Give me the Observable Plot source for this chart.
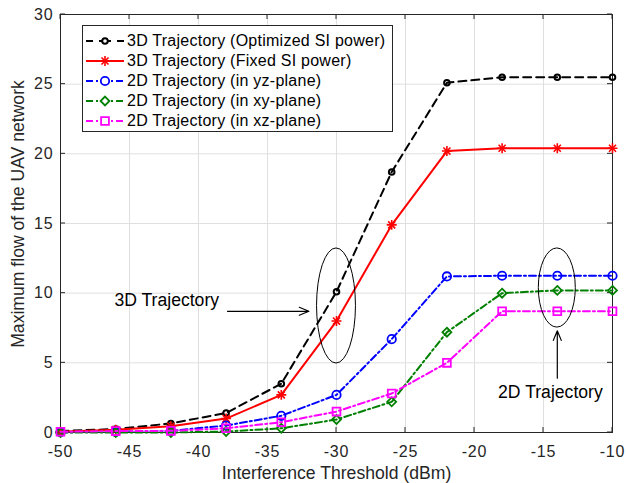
<!DOCTYPE html>
<html><head><meta charset="utf-8">
<script src="https://cdn.jsdelivr.net/npm/d3@7"></script>
<script src="https://cdn.jsdelivr.net/npm/@observablehq/plot@0.6"></script>
<style>
body{margin:0;background:#fff;}
#wrap{position:relative;width:626px;height:483px;font-family:"Liberation Sans",Arial,Helvetica,sans-serif;}
[aria-label="x-axis tick label"] text,[aria-label="y-axis tick label"] text{letter-spacing:0.8px;}
[aria-label="axis-title"] text{letter-spacing:0.9px;}
#legend{position:absolute;left:82px;top:25px;width:309px;height:105px;border:1px solid #262626;background:#fff;}
#legend .row{position:absolute;left:0;height:20px;width:100%;}
#legend svg{position:absolute;left:2px;top:0;}
#legend span{position:absolute;left:44px;top:0;line-height:20px;font-size:16px;letter-spacing:0.25px;color:#000;white-space:nowrap;}
</style></head><body><div id="wrap"></div>
<script>
// ---- data ----
const thresholds = [-50, -46, -42, -38, -34, -30, -26, -22, -18, -14, -10];
const flow3DOpt   = [0.1, 0.25, 0.65, 1.4, 3.5, 10.1, 18.7, 25.1, 25.5, 25.5, 25.5];
const flow3DFixed = [0.05, 0.2, 0.45, 1.0, 2.7, 8.0, 14.9, 20.2, 20.4, 20.4, 20.4];
const flow2Dyz    = [0.02, 0.05, 0.12, 0.5, 1.2, 2.7, 6.7, 11.2, 11.25, 11.25, 11.25];
const flow2Dxy    = [0, 0, 0, 0.07, 0.3, 0.93, 2.2, 7.2, 10.0, 10.2, 10.2];
const flow2Dxz    = [0.05, 0.1, 0.12, 0.3, 0.74, 1.5, 2.8, 5.0, 8.7, 8.7, 8.7];
const seriesNames = [
  "3D Trajectory (Optimized SI power)",
  "3D Trajectory (Fixed SI power)",
  "2D Trajectory (in yz-plane)",
  "2D Trajectory (in xy-plane)",
  "2D Trajectory (in xz-plane)"
];
const seriesColors = ["#000000", "#ff0000", "#0000ff", "#008000", "#ff00ff"];
const xTicks = [-50, -45, -40, -35, -30, -25, -20, -15, -10];
const yTicks = [0, 5, 10, 15, 20, 25, 30];
const xLabel = "Interference Threshold (dBm)";
const yLabel = "Maximum flow of the UAV network";
const annotationTexts = [
  {label: "3D Trajectory", x: -42.3, y: 9.5},
  {label: "2D Trajectory", x: -14.5, y: 2.87}
];
const annotationEllipses = [
  {cx: -30, cy: 9.08, rx: 1.41, ry: 4.13},
  {cx: -14, cy: 10.37, rx: 1.34, ry: 2.84}
];
const annotationArrows = [
  {x1: -37.9, y1: 8.7, x2: -32.0, y2: 8.7},
  {x1: -14, y1: 3.9, x2: -14, y2: 7.3}
];

// ---- styles (not data) ----
const seriesValues = [flow3DOpt, flow3DFixed, flow2Dyz, flow2Dxy, flow2Dxz];
const seriesStyles = [
  {dash: "8,5", legendDash: "7,6,12,6,7", syms: [{symbol: "circle", r: 2.8, sw: 2}]},
  {dash: null, legendDash: null, syms: [{symbol: "plus", r: 3.3, sw: 1.6}, {symbol: "times", r: 3.3, sw: 1.6}]},
  {dash: "7,3,2,3", legendDash: "7,3,2,3", syms: [{symbol: "circle", r: 4.2, sw: 1.8}]},
  {dash: "7,3,2,3", legendDash: "7,3,2,3", syms: [{symbol: "diamond2", r: 4, sw: 1.8}]},
  {dash: "7,3,2,3", legendDash: "7,3,2,3", syms: [{symbol: "square", r: 4.4, sw: 1.8}]}
];

const table = [];
seriesNames.forEach((s, k) => thresholds.forEach((t, i) => table.push({series: s, k, threshold: t, flow: seriesValues[k][i]})));

function scaleFns(scales, dims) {
  const left = dims.marginLeft, right = dims.width - dims.marginRight;
  const top = dims.marginTop, bottom = dims.height - dims.marginBottom;
  const x = typeof scales.x === "function" ? scales.x : d3.scaleLinear([-50, -10], [left, right]);
  const y = typeof scales.y === "function" ? scales.y : d3.scaleLinear([0, 30], [bottom, top]);
  return {x, y, left, right, top, bottom};
}

function innerTicks(index, scales, values, dims) {
  const {x, y, left, right, top, bottom} = scaleFns(scales, dims);
  const g = d3.create("svg:g").attr("stroke", "#262626").attr("stroke-width", 1).attr("fill", "none");
  const L = 5;
  for (const t of xTicks) {
    const px = x(t);
    g.append("line").attr("x1", px).attr("x2", px).attr("y1", bottom).attr("y2", bottom - L);
    g.append("line").attr("x1", px).attr("x2", px).attr("y1", top).attr("y2", top + L);
  }
  for (const t of yTicks) {
    const py = y(t);
    g.append("line").attr("x1", left).attr("x2", left + L).attr("y1", py).attr("y2", py);
    g.append("line").attr("x1", right).attr("x2", right - L).attr("y1", py).attr("y2", py);
  }
  return g.node();
}

function ellipses(index, scales, values, dims) {
  const {x, y} = scaleFns(scales, dims);
  const g = d3.create("svg:g").attr("stroke", "#000").attr("stroke-width", 1).attr("fill", "none");
  for (const e of annotationEllipses) {
    g.append("ellipse")
      .attr("cx", x(e.cx)).attr("cy", y(e.cy))
      .attr("rx", Math.abs(x(e.cx + e.rx) - x(e.cx)))
      .attr("ry", Math.abs(y(e.cy + e.ry) - y(e.cy)));
  }
  return g.node();
}

const seriesMarks = [];
seriesNames.forEach((s, k) => {
  const rows = table.filter(d => d.k === k);
  const st = seriesStyles[k];
  seriesMarks.push(Plot.line(rows, {x: "threshold", y: "flow", stroke: seriesColors[k], strokeWidth: 2,
    strokeDasharray: st.dash || undefined, strokeLinejoin: "miter"}));
  for (const sy of st.syms) {
    seriesMarks.push(Plot.dot(rows, {x: "threshold", y: "flow", symbol: sy.symbol, r: sy.r,
      stroke: seriesColors[k], strokeWidth: sy.sw, fill: "none"}));
  }
});

const chart = Plot.plot({
  width: 626,
  height: 483,
  marginLeft: 60,
  marginRight: 14,
  marginTop: 14,
  marginBottom: 51,
  style: {fontFamily: "'Liberation Sans', Arial, Helvetica, sans-serif", fontSize: "16px", color: "#262626", background: "#fff"},
  x: {domain: [-50, -10]},
  y: {domain: [0, 30]},
  marks: [
    Plot.gridX(xTicks, {stroke: "#dfdfdf", strokeOpacity: 1, strokeWidth: 1}),
    Plot.gridY(yTicks, {stroke: "#dfdfdf", strokeOpacity: 1, strokeWidth: 1}),
    Plot.frame({stroke: "#262626", strokeWidth: 1}),
    innerTicks,
    Plot.axisX({ticks: xTicks, tickSize: 0, tickPadding: 13, tickFormat: d => String(d), label: null, fontSize: 16, fill: "#262626"}),
    Plot.axisY({ticks: yTicks, tickSize: 0, tickPadding: 7, tickFormat: d => String(d), label: null, fontSize: 16, fill: "#262626"}),
    Plot.text([xLabel], {frameAnchor: "bottom", dy: 41, textAnchor: "middle", lineAnchor: "middle", text: d => d, fontSize: 17.6, fill: "#262626", ariaLabel: "axis-title"}),
    Plot.text([yLabel], {frameAnchor: "left", dx: -42.5, dy: -9.5, rotate: -90, textAnchor: "middle", lineAnchor: "middle", text: d => d, fontSize: 17.6, fill: "#262626", ariaLabel: "axis-title"}),
    ...seriesMarks,
    ellipses,
    Plot.arrow(annotationArrows, {x1: "x1", y1: "y1", x2: "x2", y2: "y2", stroke: "#000", strokeWidth: 1.2, headLength: 13, headAngle: 45}),
    Plot.text(annotationTexts, {x: "x", y: "y", text: "label", fontSize: 17.6, fill: "#000"})
  ]
});

const wrap = d3.select("#wrap");
wrap.node().appendChild(chart);

// legend
const legend = wrap.append("div").attr("id", "legend");
seriesNames.forEach((s, k) => {
  const st = seriesStyles[k];
  const row = legend.append("div").attr("class", "row").style("top", (4.5 + k * 20) + "px");
  const svg = row.append("svg").attr("width", 40).attr("height", 20);
  svg.append("line").attr("x1", 1).attr("x2", 39).attr("y1", 10).attr("y2", 10)
    .attr("stroke", seriesColors[k]).attr("stroke-width", 2)
    .attr("stroke-dasharray", st.legendDash);
  const symMap = {circle: d3.symbolCircle, plus: d3.symbolPlus, times: d3.symbolTimes, diamond2: d3.symbolDiamond2, square: d3.symbolSquare};
  for (const sy of st.syms) {
    svg.append("path").attr("transform", "translate(20,10)")
      .attr("d", d3.symbol(symMap[sy.symbol], sy.r * sy.r * Math.PI)())
      .attr("fill", "#fff").attr("stroke", seriesColors[k]).attr("stroke-width", sy.sw);
  }
  row.append("span").text(s);
});
</script>
</body></html>
